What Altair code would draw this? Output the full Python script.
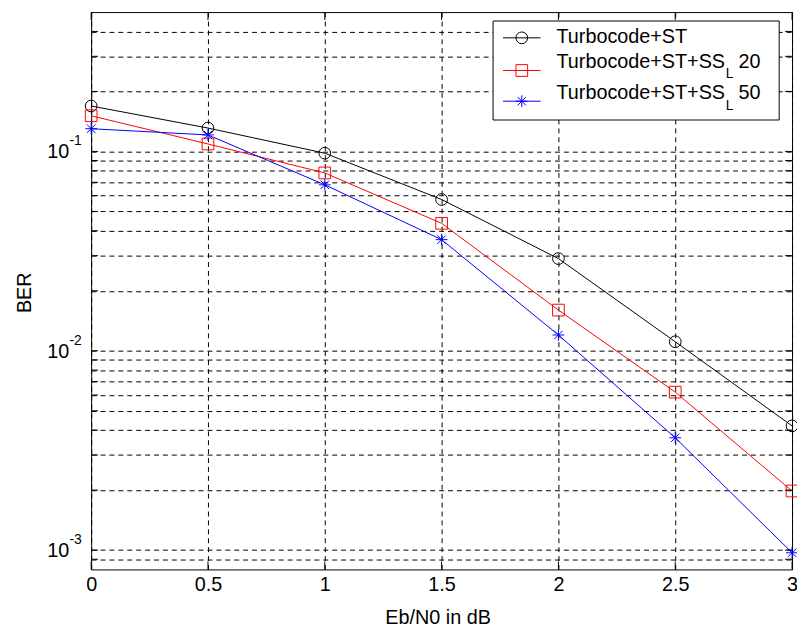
import altair as alt
import pandas as pd

# ---- data ----
ebn0 = [0, 0.5, 1, 1.5, 2, 2.5, 3]
ber_st = [0.169, 0.131, 0.098, 0.0574, 0.029, 0.0111, 0.0042]
ber_ss20 = [0.151, 0.109, 0.078, 0.0436, 0.0160, 0.0062, 0.00198]
ber_ss50 = [0.130, 0.121, 0.068, 0.0361, 0.0120, 0.00366, 0.00097]

series_names = ["Turbocode+ST", "Turbocode+ST+SS_L 20", "Turbocode+ST+SS_L 50"]
series_colors = ["#000000", "#ff0000", "#0000ff"]

legend_main = ["Turbocode+ST", "Turbocode+ST+SS", "Turbocode+ST+SS"]
legend_sub = ["", "L", "L"]
legend_tail = ["", "20", "50"]

x_ticks = [0, 0.5, 1, 1.5, 2, 2.5, 3]
y_grid = [0.0009, 0.001, 0.002, 0.003, 0.004, 0.005, 0.006, 0.007, 0.008, 0.009,
          0.01, 0.02, 0.03, 0.04, 0.05, 0.06, 0.07, 0.08, 0.09,
          0.1, 0.2, 0.3, 0.4]
y_label_vals = [0.1, 0.01, 0.001]
y_label_exp = ["-1", "-2", "-3"]

STAR = "M-1,0L1,0M0,-1L0,1M-0.72,-0.72L0.72,0.72M-0.72,0.72L0.72,-0.72"
shapes = ["circle", "square", STAR]

FONT = "Liberation Sans"
W, H = 708, 563

rows = []
for name, vals in zip(series_names, [ber_st, ber_ss20, ber_ss50]):
    for xv, yv in zip(ebn0, vals):
        rows.append({"x": xv, "ber": yv, "series": name})
df = pd.DataFrame(rows)

xs = alt.Scale(domain=[0, 3], nice=False, zero=False)
ys = alt.Scale(type="log", domain=[0.0008, 0.5], nice=False)

x_axis = alt.Axis(values=x_ticks, grid=True, gridDash=[5, 4], gridColor="#000000",
                  gridOpacity=1, gridWidth=1, domain=False, ticks=False,
                  labelFont=FONT, labelFontSize=20, labelColor="#000",
                  labelPadding=5, labelFlush=False, labelOverlap=False,
                  labelExpr="format(datum.value, '.1~f')",
                  title="Eb/N0 in dB", titleFont=FONT, titleFontSize=20,
                  titleFontWeight="normal", titleColor="#000",
                  titleX=350, titleY=55, titleBaseline="alphabetic")
y_axis = alt.Axis(values=y_grid, grid=True, gridDash=[5, 4], gridColor="#000000",
                  gridOpacity=1, gridWidth=1, domain=False, ticks=False,
                  labels=False,
                  title="BER", titleFont=FONT, titleFontSize=20,
                  titleFontWeight="normal", titleColor="#000",
                  titleX=-61, titleY=283, titleBaseline="alphabetic")

color = alt.Color("series:N", scale=alt.Scale(domain=series_names, range=series_colors), legend=None)
shape = alt.Shape("series:N", scale=alt.Scale(domain=series_names, range=shapes), legend=None)

lines = alt.Chart(df).mark_line(strokeWidth=1).encode(
    x=alt.X("x:Q", scale=xs, axis=x_axis),
    y=alt.Y("ber:Q", scale=ys, axis=y_axis),
    color=color,
    detail="series:N",
)
points = alt.Chart(df).mark_point(filled=False, size=140, strokeWidth=1, opacity=1).encode(
    x=alt.X("x:Q", scale=xs),
    y=alt.Y("ber:Q", scale=ys),
    color=color,
    shape=shape,
)

# inward ticks (MATLAB style)
xt = pd.DataFrame({"x": x_ticks})
yt = pd.DataFrame({"y": y_grid})
tick_bottom = alt.Chart(xt).mark_rule(color="#000", strokeWidth=1).encode(
    x=alt.X("x:Q", scale=xs), y=alt.value(H), y2=alt.value(H - 8))
tick_top = alt.Chart(xt).mark_rule(color="#000", strokeWidth=1).encode(
    x=alt.X("x:Q", scale=xs), y=alt.value(0), y2=alt.value(8))
tick_left = alt.Chart(yt).mark_rule(color="#000", strokeWidth=1).encode(
    y=alt.Y("y:Q", scale=ys), x=alt.value(0), x2=alt.value(7))
tick_right = alt.Chart(yt).mark_rule(color="#000", strokeWidth=1).encode(
    y=alt.Y("y:Q", scale=ys), x=alt.value(W), x2=alt.value(W - 7))

# y tick labels with exponent
ylab = pd.DataFrame({"v": y_label_vals, "base": ["10"] * 3, "exp": y_label_exp})
ylab_base = alt.Chart(ylab).mark_text(font=FONT, fontSize=20, align="right",
                                      baseline="alphabetic", dy=7, color="#000").encode(
    y=alt.Y("v:Q", scale=ys), x=alt.value(-22), text="base:N")
ylab_exp = alt.Chart(ylab).mark_text(font=FONT, fontSize=14, align="left",
                                     baseline="alphabetic", dy=-6, color="#000").encode(
    y=alt.Y("v:Q", scale=ys), x=alt.value(-22), text="exp:N")

# legend box
legend_df = pd.DataFrame({"k": [0]})
legend_box = alt.Chart(legend_df).mark_rect(fill="white", stroke="#000", strokeWidth=1).encode(
    x=alt.value(406), x2=alt.value(695), y=alt.value(9), y2=alt.value(109))

layers = [lines, points, tick_bottom, tick_top, tick_left, tick_right,
          ylab_base, ylab_exp, legend_box]

line_ys = [26, 59, 90]
base_ys = [31, 56, 88]
for i in range(3):
    d = pd.DataFrame({"main": [legend_main[i]], "sub": [legend_sub[i]], "tail": [legend_tail[i]]})
    ly = line_ys[i]
    layers.append(alt.Chart(d).mark_rule(color=series_colors[i], strokeWidth=1).encode(
        x=alt.value(416), x2=alt.value(454), y=alt.value(ly)))
    layers.append(alt.Chart(d).mark_point(shape=shapes[i], size=140, filled=False,
                                          color=series_colors[i], strokeWidth=1, opacity=1).encode(
        x=alt.value(435), y=alt.value(ly)))
    layers.append(alt.Chart(d).mark_text(font=FONT, fontSize=20, align="left",
                                         baseline="alphabetic", color="#000").encode(
        x=alt.value(470), y=alt.value(base_ys[i]), text="main:N"))
    if legend_sub[i]:
        layers.append(alt.Chart(d).mark_text(font=FONT, fontSize=14, align="left",
                                             baseline="alphabetic", color="#000").encode(
            x=alt.value(641), y=alt.value(base_ys[i] + 11), text="sub:N"))
        layers.append(alt.Chart(d).mark_text(font=FONT, fontSize=20, align="left",
                                             baseline="alphabetic", color="#000").encode(
            x=alt.value(654), y=alt.value(base_ys[i]), text="tail:N"))

chart = alt.layer(*layers).properties(
    width=W, height=H,
    autosize=alt.AutoSizeParams(type="none"),
    padding={"left": 84, "top": 1, "right": 5, "bottom": 55},
    background="white",
).configure_view(stroke="#000", strokeWidth=1)

chart.save("out.html", embed_options={"renderer": "svg", "actions": False})
